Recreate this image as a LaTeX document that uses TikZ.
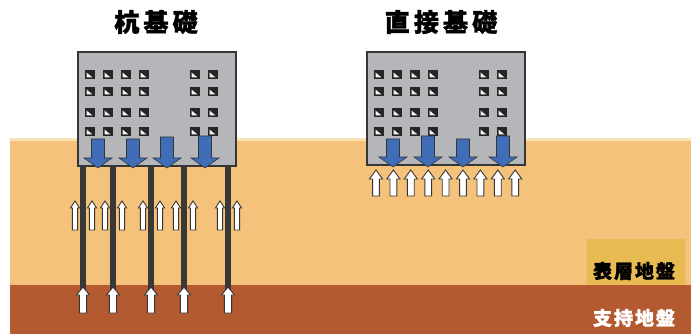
\documentclass[tikz,border=0pt]{standalone}
\usepackage{fontspec}
\newfontfamily\jp{Noto Sans CJK JP}[BoldFeatures={FakeBold=1.5}]
\usetikzlibrary{calc}

\definecolor{topsoil}{HTML}{F5C27B}
\definecolor{topsoilhi}{HTML}{FBE2B4}
\definecolor{bearing}{HTML}{B35A30}
\definecolor{labelbox}{HTML}{E8BA52}
\definecolor{wallgray}{HTML}{B4B6BA}
\definecolor{edgegray}{HTML}{363636}
\definecolor{loadblue}{HTML}{3F6DB8}
\definecolor{pilegray}{HTML}{3A3836}

% up-pointing hollow arrow: x, tip y, base y, shaft half width, head half width, head length
\newcommand{\reactarrow}[6]{%
  \filldraw[reactstyle]
    ({#1-#4},#3) -- ({#1-#4},{#2+#6}) -- ({#1-#5},{#2+#6}) -- (#1,#2)
    -- ({#1+#5},{#2+#6}) -- ({#1+#4},{#2+#6}) -- ({#1+#4},#3) -- cycle;}
% downward load arrow: x, top y, tip y
\newcommand{\loadarrow}[3]{%
  \filldraw[loadstyle]
    ({#1-6.5},#2) -- ({#1-6.5},{#3-10}) -- ({#1-14},{#3-10}) -- (#1,#3)
    -- ({#1+14},{#3-10}) -- ({#1+6.5},{#3-10}) -- ({#1+6.5},#2) -- cycle;}
% one window pane with a light glare triangle
\newcommand{\pane}[2]{%
  \fill[black!85] (#1,#2) rectangle ({#1+10},{#2+9});
  \fill[white!92!gray] ({#1+1.5},{#2+7.5}) -- ({#1+1.5},{#2+2.5}) -- ({#1+7.5},{#2+7.5}) -- cycle;}
% grid of windows for a building whose left/top edge is given
\newcommand{\facade}[2]{%
  \foreach \dx in {7,25,43,61,112,130} {%
    \foreach \dy in {18,35,56,75} {%
      \pgfmathsetmacro{\wx}{#1+\dx}%
      \pgfmathsetmacro{\wy}{#2+\dy}%
      \pane{\wx}{\wy}}}}

\tikzset{
  reactstyle/.style={draw=edgegray, line width=0.9pt, fill=white, line join=miter},
  loadstyle/.style={draw=edgegray, line width=0.6pt, fill=loadblue},
  building/.style={draw=edgegray, line width=1.4pt, fill=wallgray},
  pile/.style={draw=pilegray, line width=5.5pt},
  title/.style={font=\jp\bfseries\fontsize{25}{25}\selectfont, text=black, inner sep=0pt},
  strata/.style={font=\jp\bfseries\fontsize{19}{19}\selectfont, inner sep=0pt}
}

\begin{document}
\begin{tikzpicture}[x=1pt,y=-1pt]
  \useasboundingbox (0,0) rectangle (691,334);
  \fill[white] (0,0) rectangle (691,334);

  % soil layers
  \fill[topsoil] (10,139) rectangle (691,286);
  \fill[topsoilhi] (10,138.5) rectangle (691,141);
  \fill[bearing] (10,285) rectangle (691,334);
  \fill[labelbox] (587,239) rectangle (685,285);
  \node[strata, text=black] (surface) at (634,271) {表\hspace{2pt}層\hspace{2pt}地\hspace{2pt}盤};
  \node[strata, text=white] (support) at (634,318) {支\hspace{2pt}持\hspace{2pt}地\hspace{2pt}盤};

  % titles
  \node[title] (pileT) at (156,22) {杭\,基\,礎};
  \node[title] (spreadT) at (441,22) {直\,接\,基\,礎};

  % ---- pile foundation ----
  \foreach \px in {83,113,151,184,228} {
    \draw[pile] (\px,165) -- (\px,295);
  }
  \draw[building] (78,52) rectangle (236,166);
  \facade{78}{52}
  \loadarrow{98}{139}{168}
  \loadarrow{133}{139}{168}
  \loadarrow{167}{137}{168}
  \loadarrow{205}{136}{168}
  % skin friction along the piles
  \foreach \px in {83,113,151,184,228} {
    \reactarrow{\px-8}{201}{230}{2.6}{4.6}{7}
    \reactarrow{\px+9}{201}{230}{2.6}{4.6}{7}
  }
  % end bearing at the pile tips
  \foreach \px in {83,113,151,184,228} {
    \reactarrow{\px}{287}{313}{3.6}{6.5}{8}
  }

  % ---- spread foundation ----
  \draw[building] (367,52) rectangle (525,165);
  \facade{367}{52}
  \loadarrow{393}{139}{167}
  \loadarrow{428}{136}{167}
  \loadarrow{463}{139}{167}
  \loadarrow{503}{136}{167}
  \foreach \i in {0,...,8} {
    \reactarrow{376+17.4*\i}{170}{196}{3.4}{6.6}{9}
  }
\end{tikzpicture}
\end{document}
